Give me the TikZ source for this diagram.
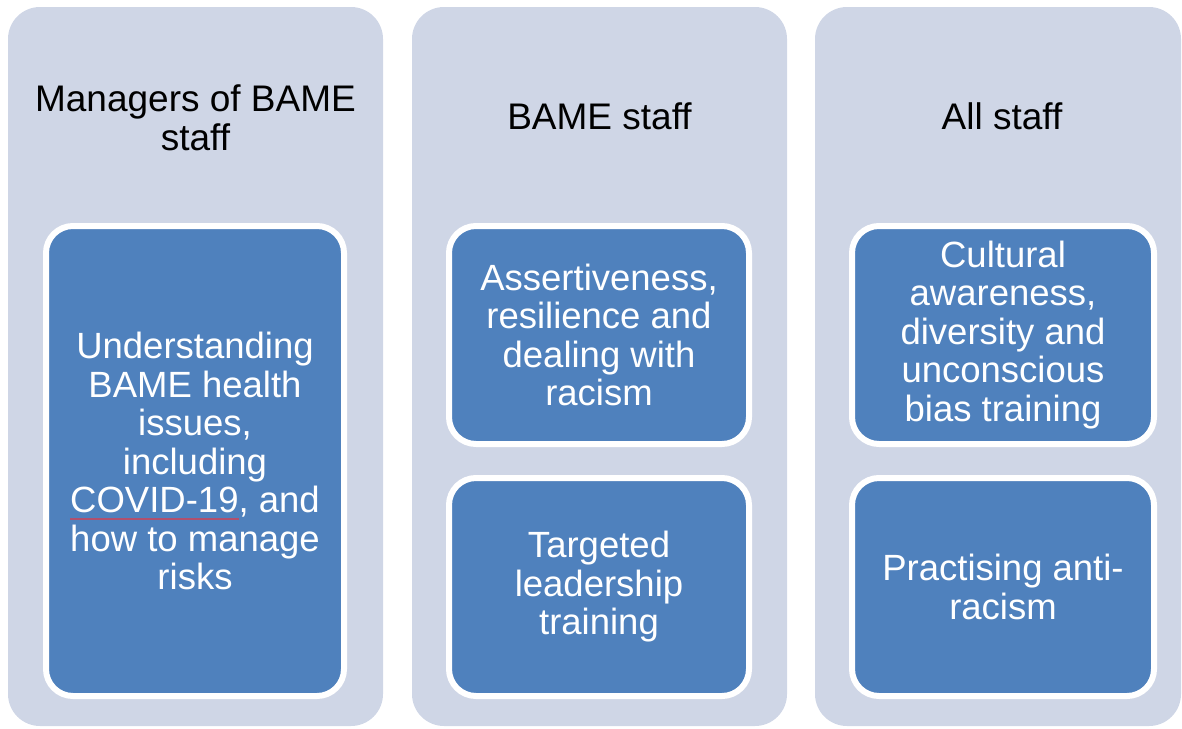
\documentclass[tikz,border=0pt]{standalone}
\usepackage{fontspec}
\setmainfont{Liberation Sans}
\definecolor{panel}{HTML}{CFD6E6}
\definecolor{innerblue}{HTML}{4F81BD}
\definecolor{squigcol}{HTML}{B0506E}
\newsavebox\sqbox
\newcommand\squig[1]{\sbox\sqbox{#1}\leavevmode\rlap{\color{squigcol}\rule[-7pt]{\wd\sqbox}{1.2pt}}\usebox\sqbox}
\begin{document}
\begin{tikzpicture}[x=1pt,y=-1pt,
  panelbox/.style={fill=panel, draw=none, rounded corners=32pt, inner sep=0pt, outer sep=0pt},
  innerbox/.style={fill=innerblue, draw=white, line width=6pt, rounded corners=27pt,
    align=center, text=white, inner sep=0pt, outer sep=0pt,
    font=\fontsize{36.5}{38.5}\selectfont},
  hdr/.style={align=center, text=black, inner sep=0pt, font=\fontsize{37}{38.5}\selectfont}]
\useasboundingbox (0,0) rectangle (1182,728);
% panels
\node[panelbox, minimum width=375pt, minimum height=719pt] (p1) at (195.5,366.5) {};
\node[panelbox, minimum width=375pt, minimum height=719pt] (p2) at (599.5,366.5) {};
\node[panelbox, minimum width=366pt, minimum height=719pt] (p3) at (998,366.5) {};
% headers
\node[hdr] (h1) at (195.5,118) {Managers of BAME\\staff};
\node[hdr] (h2) at (599.5,116) {BAME staff};
\node[hdr] (h3) at (1002,116) {All staff};
% inner boxes
\node[innerbox, minimum width=298pt, minimum height=470pt] (b1) at (195,461)
  {Understanding\\BAME health\\issues,\\including\\\squig{COVID-19}, and\\how to manage\\risks};
\node[innerbox, minimum width=300pt, minimum height=218pt] (b2a) at (599,335)
  {Assertiveness,\\resilience and\\dealing with\\racism};
\node[innerbox, minimum width=300pt, minimum height=218pt] (b2b) at (599,587)
  {Targeted\\leadership\\training};
\node[innerbox, minimum width=302pt, minimum height=218pt] (b3a) at (1003,335)
  {Cultural\\awareness,\\diversity and\\unconscious\\bias training};
\node[innerbox, minimum width=302pt, minimum height=218pt] (b3b) at (1003,587)
  {Practising anti-\\racism};
\end{tikzpicture}
\end{document}
